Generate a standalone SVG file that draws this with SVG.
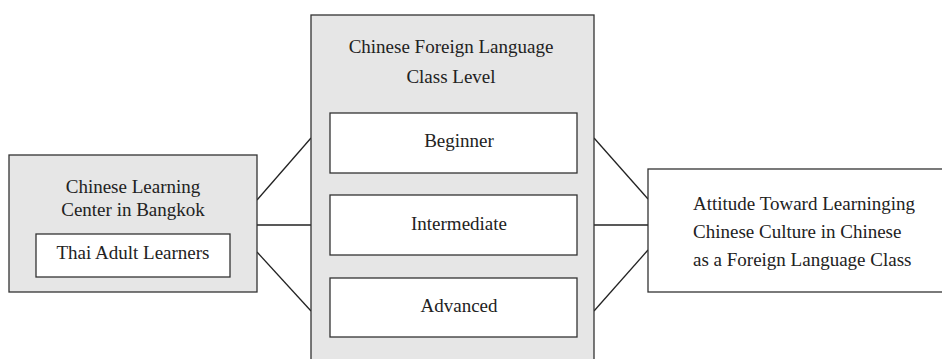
<svg xmlns="http://www.w3.org/2000/svg" width="942" height="359" viewBox="0 0 942 359">
  <style>
    .outer { fill: #e6e6e6; stroke: #333; stroke-width: 1.3; }
    .inner { fill: #ffffff; stroke: #333; stroke-width: 1.3; }
    .box { fill: #ffffff; stroke: #333; stroke-width: 1.3; }
    .lbl { font-family: "Liberation Serif", "Times New Roman", serif; font-size: 19px; fill: #222; }
    .mid { text-anchor: middle; }
    #connectors line { stroke: #222; stroke-width: 1.3; }
  </style>
  <rect width="942" height="359" fill="#ffffff"/>

  <g id="connectors">
    <!-- learners to class levels -->
    <line x1="257" y1="200" x2="311" y2="138"/>
    <line x1="311" y1="138" x2="330" y2="138"/>
    <line x1="257" y1="225" x2="330" y2="225"/>
    <line x1="257" y1="252" x2="311" y2="311"/>
    <line x1="311" y1="311" x2="330" y2="311"/>
    <!-- class levels to attitude -->
    <line x1="577" y1="138" x2="594" y2="138"/>
    <line x1="594" y1="138" x2="648" y2="199"/>
    <line x1="577" y1="225" x2="648" y2="225"/>
    <line x1="577" y1="311" x2="594" y2="311"/>
    <line x1="594" y1="311" x2="648" y2="250"/>
  </g>

  <g id="learning-center">
    <rect class="outer" x="9" y="155" width="248" height="137"/>
    <text class="lbl mid" x="133" y="193">Chinese Learning</text>
    <text class="lbl mid" x="133" y="216">Center in Bangkok</text>
    <g id="thai-adult-learners">
      <rect class="inner" x="36" y="234" width="194" height="43"/>
      <text class="lbl mid" x="133" y="259">Thai Adult Learners</text>
    </g>
  </g>

  <g id="class-level">
    <rect class="outer" x="311" y="15" width="283" height="360"/>
    <text class="lbl mid" x="451" y="53">Chinese Foreign Language</text>
    <text class="lbl mid" x="451" y="83">Class Level</text>
    <g id="beginner">
      <rect class="inner" x="330" y="113" width="247" height="60"/>
      <text class="lbl mid" x="459" y="147">Beginner</text>
    </g>
    <g id="intermediate">
      <rect class="inner" x="330" y="195" width="247" height="60"/>
      <text class="lbl mid" x="459" y="230">Intermediate</text>
    </g>
    <g id="advanced">
      <rect class="inner" x="330" y="278" width="247" height="59"/>
      <text class="lbl mid" x="459" y="312">Advanced</text>
    </g>
  </g>

  <g id="attitude">
    <rect class="box" x="648" y="169" width="320" height="123"/>
    <text class="lbl" x="693" y="210">Attitude Toward Learninging</text>
    <text class="lbl" x="693" y="238">Chinese Culture in Chinese</text>
    <text class="lbl" x="693" y="266">as a Foreign Language Class</text>
  </g>
</svg>
